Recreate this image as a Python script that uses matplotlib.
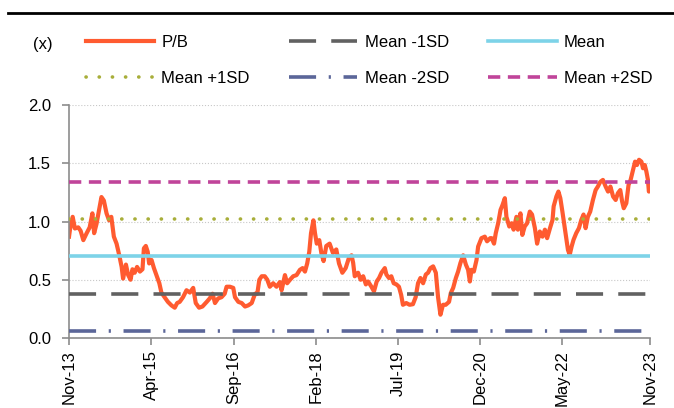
import pandas as pd
import matplotlib.pyplot as plt
from matplotlib.lines import Line2D

plt.rcParams['font.family'] = ['Liberation Sans', 'DejaVu Sans']

# P/B series
pb_dates = [
    '2013-11-01', '2013-11-07', '2013-11-24', '2013-12-08', '2013-12-29', '2014-01-13', '2014-01-30',
    '2014-02-20', '2014-03-11', '2014-03-28', '2014-04-08', '2014-04-23', '2014-05-09', '2014-05-24',
    '2014-06-08', '2014-06-25', '2014-07-11', '2014-07-25', '2014-08-10', '2014-08-27', '2014-09-13',
    '2014-09-28', '2014-10-07', '2014-10-25', '2014-11-08', '2014-11-23', '2014-12-05', '2014-12-19',
    '2015-01-03', '2015-01-21', '2015-02-06', '2015-02-15', '2015-02-27', '2015-03-11', '2015-03-20',
    '2015-04-04', '2015-04-19', '2015-05-05', '2015-05-23', '2015-06-05', '2015-06-25', '2015-07-16',
    '2015-08-07', '2015-08-28', '2015-09-12', '2015-09-28', '2015-10-19', '2015-11-10', '2015-12-01',
    '2015-12-22', '2016-01-07', '2016-01-28', '2016-02-18', '2016-03-16', '2016-04-04', '2016-04-22',
    '2016-05-07', '2016-05-27', '2016-06-17', '2016-07-07', '2016-07-19', '2016-08-09', '2016-08-30',
    '2016-09-10', '2016-10-01', '2016-10-22', '2016-11-12', '2016-12-02', '2016-12-24', '2017-01-14',
    '2017-01-28', '2017-02-10', '2017-02-25', '2017-03-16', '2017-04-01', '2017-04-17', '2017-05-08',
    '2017-05-29', '2017-06-19', '2017-06-30', '2017-07-21', '2017-08-04', '2017-08-22', '2017-09-11',
    '2017-10-02', '2017-10-23', '2017-11-09', '2017-11-24', '2017-12-08', '2017-12-21', '2018-01-01',
    '2018-01-16', '2018-01-26', '2018-02-06', '2018-02-22', '2018-03-07', '2018-03-21', '2018-04-07',
    '2018-04-28', '2018-05-19', '2018-06-09', '2018-06-26', '2018-07-17', '2018-08-07', '2018-08-28',
    '2018-09-13', '2018-09-23', '2018-10-03', '2018-10-24', '2018-11-09', '2018-11-25', '2018-12-12',
    '2018-12-26', '2019-01-16', '2019-02-01', '2019-02-18', '2019-03-05', '2019-03-20', '2019-04-10',
    '2019-04-20', '2019-05-06', '2019-05-21', '2019-06-05', '2019-06-22', '2019-07-08', '2019-07-22',
    '2019-08-02', '2019-08-23', '2019-09-13', '2019-10-04', '2019-10-21', '2019-11-05', '2019-11-20',
    '2019-12-07', '2019-12-24', '2020-01-07', '2020-01-22', '2020-02-08', '2020-02-25', '2020-03-10',
    '2020-03-25', '2020-04-10', '2020-04-27', '2020-05-18', '2020-05-29', '2020-06-13', '2020-06-30',
    '2020-07-14', '2020-07-29', '2020-08-15', '2020-09-01', '2020-09-15', '2020-09-26', '2020-10-06',
    '2020-10-21', '2020-11-07', '2020-11-17', '2020-12-08', '2020-12-29', '2021-01-12', '2021-02-01',
    '2021-02-10', '2021-02-25', '2021-03-08', '2021-03-23', '2021-04-07', '2021-04-19', '2021-05-04',
    '2021-05-14', '2021-06-01', '2021-06-16', '2021-06-28', '2021-07-16', '2021-07-25', '2021-08-10',
    '2021-08-22', '2021-09-06', '2021-09-21', '2021-10-08', '2021-10-22', '2021-11-09', '2021-11-23',
    '2021-12-10', '2021-12-27', '2022-01-11', '2022-01-25', '2022-02-12', '2022-02-28', '2022-03-07',
    '2022-03-24', '2022-04-06', '2022-04-18', '2022-05-01', '2022-05-16', '2022-05-26', '2022-06-05',
    '2022-06-16', '2022-06-28', '2022-07-10', '2022-07-27', '2022-08-13', '2022-08-28', '2022-09-11',
    '2022-09-24', '2022-10-08', '2022-10-23', '2022-11-09', '2022-11-26', '2022-12-10', '2022-12-25',
    '2023-01-11', '2023-01-28', '2023-02-12', '2023-02-27', '2023-03-16', '2023-04-01', '2023-04-15',
    '2023-04-30', '2023-05-12', '2023-05-22', '2023-06-07', '2023-06-21', '2023-07-04', '2023-07-19',
    '2023-08-01', '2023-08-13', '2023-08-26', '2023-09-10', '2023-09-20', '2023-10-01', '2023-10-11',
    '2023-10-21', '2023-10-27', '2023-11-03',
]
pb_values = [
    0.87, 0.93, 1.04, 0.94, 0.95, 0.92, 0.84,
    0.90, 0.95, 1.07, 0.90, 0.98, 1.10, 1.21,
    1.18, 1.07, 1.01, 1.04, 0.87, 0.81, 0.71,
    0.61, 0.51, 0.63, 0.54, 0.50, 0.59, 0.56,
    0.61, 0.57, 0.59, 0.77, 0.79, 0.74, 0.64,
    0.67, 0.60, 0.54, 0.47, 0.39, 0.35, 0.31,
    0.28, 0.26, 0.30, 0.31, 0.35, 0.41, 0.39,
    0.43, 0.30, 0.26, 0.27, 0.31, 0.34, 0.38,
    0.30, 0.34, 0.35, 0.38, 0.44, 0.44, 0.43,
    0.35, 0.31, 0.30, 0.27, 0.28, 0.30, 0.38,
    0.38, 0.50, 0.53, 0.53, 0.50, 0.44, 0.47,
    0.44, 0.48, 0.41, 0.54, 0.47, 0.50, 0.53,
    0.54, 0.585, 0.60, 0.57, 0.64, 0.74, 0.90,
    1.01, 0.90, 0.81, 0.84, 0.73, 0.66, 0.79,
    0.81, 0.73, 0.76, 0.64, 0.56, 0.60, 0.69,
    0.71, 0.645, 0.53, 0.56, 0.50, 0.53, 0.46,
    0.485, 0.44, 0.40, 0.485, 0.515, 0.56, 0.60,
    0.545, 0.515, 0.53, 0.47, 0.46, 0.44, 0.37,
    0.285, 0.30, 0.285, 0.29, 0.35, 0.47, 0.515,
    0.47, 0.545, 0.56, 0.60, 0.615, 0.56, 0.35,
    0.20, 0.285, 0.285, 0.31, 0.385, 0.43, 0.515,
    0.57, 0.645, 0.71, 0.63, 0.585, 0.485, 0.585,
    0.57, 0.67, 0.785, 0.857, 0.87, 0.83, 0.857,
    0.857, 0.81, 0.90, 0.985, 1.10, 1.14, 1.20,
    1.04, 0.957, 0.985, 0.93, 1.04, 0.93, 1.07,
    0.885, 0.957, 0.985, 1.085, 1.06, 0.943, 0.81,
    0.914, 0.87, 0.93, 0.857, 0.943, 1.014, 1.13,
    1.214, 1.257, 1.20, 1.085, 0.943, 0.843, 0.756,
    0.714, 0.785, 0.843, 0.90, 0.943, 1.014, 1.06,
    0.943, 1.04, 1.085, 1.185, 1.27, 1.30, 1.34,
    1.357, 1.30, 1.257, 1.30, 1.214, 1.185, 1.243,
    1.27, 1.17, 1.114, 1.157, 1.314, 1.357, 1.443,
    1.514, 1.485, 1.53, 1.514, 1.457, 1.485, 1.43,
    1.357, 1.257, 1.30,
]

# band levels
mean_val = 0.70
minus_1sd = 0.38
plus_1sd = 1.02
minus_2sd = 0.06
plus_2sd = 1.34

tick_dates = ['2013-11-01', '2015-04-01', '2016-09-01', '2018-02-01',
              '2019-07-01', '2020-12-01', '2022-05-01', '2023-11-01']
tick_labels = ['Nov-13', 'Apr-15', 'Sep-16', 'Feb-18', 'Jul-19', 'Dec-20', 'May-22', 'Nov-23']
y_ticks = [0.0, 0.5, 1.0, 1.5, 2.0]

fig = plt.figure(figsize=(6.74, 4.08), dpi=100)
ax = fig.add_axes([0.1024, 0.1716, 0.862, 0.571])

x = pd.to_datetime(pb_dates)
ax.plot(x, pb_values, color='#FF5B30', lw=3.0, label='P/B', zorder=2)

ax.axhline(minus_1sd, color='#616161', lw=2.6, ls=(0, (7.5, 4.2)), label='Mean -1SD', zorder=3)
ax.axhline(mean_val, color='#7DD3E8', lw=2.6, label='Mean', zorder=3)
ax.axhline(plus_1sd, color='#A8AE3A', lw=2.6, ls=(0, (0.05, 3.6)), dash_capstyle='round',
           label='Mean +1SD', zorder=3)
ax.axhline(minus_2sd, color='#5B6699', lw=2.6, ls=(0, (7.5, 3.5, 0.6, 3.5)), label='Mean -2SD', zorder=3)
ax.axhline(plus_2sd, color='#C0449A', lw=2.6, ls=(0, (3.4, 2.1)), label='Mean +2SD', zorder=3)

ax.set_xlim(pd.Timestamp('2013-11-01'), pd.Timestamp('2023-11-03'))
ax.set_ylim(0, 2.0)
ax.set_yticks(y_ticks)
ax.set_yticklabels(['%.1f' % v for v in y_ticks])
ax.set_xticks(pd.to_datetime(tick_dates))
ax.set_xticklabels(tick_labels, rotation=90)

ax.grid(axis='y', color='#C8C8C8', lw=0.8, ls=':')
ax.set_axisbelow(True)
for s in ['top', 'right']:
    ax.spines[s].set_visible(False)
for s in ['left', 'bottom']:
    ax.spines[s].set_color('#8C8C8C')
    ax.spines[s].set_linewidth(1.2)
ax.tick_params(axis='both', colors='#8C8C8C', labelcolor='black', labelsize=12, width=1.2)
ax.tick_params(axis='y', length=5, pad=8)
ax.tick_params(axis='x', length=5, pad=4)

# legend above the plot, row by row
h, l = ax.get_legend_handles_labels()
order = [0, 3, 1, 4, 2, 5]
fig.legend([h[i] for i in order], [l[i] for i in order], ncol=3, loc='upper left',
           bbox_to_anchor=(0.127, 0.914), frameon=False, fontsize=12,
           handlelength=4.1, handletextpad=0.45, columnspacing=2.35,
           labelspacing=1.25, borderpad=0, borderaxespad=0)

fig.text(43 / 674, 1 - 45 / 408, '(x)', ha='center', va='center', fontsize=12)
fig.add_artist(Line2D([8 / 674, 1], [1 - 13 / 408, 1 - 13 / 408], color='black', lw=2))

fig.savefig('out.png', dpi=100)
